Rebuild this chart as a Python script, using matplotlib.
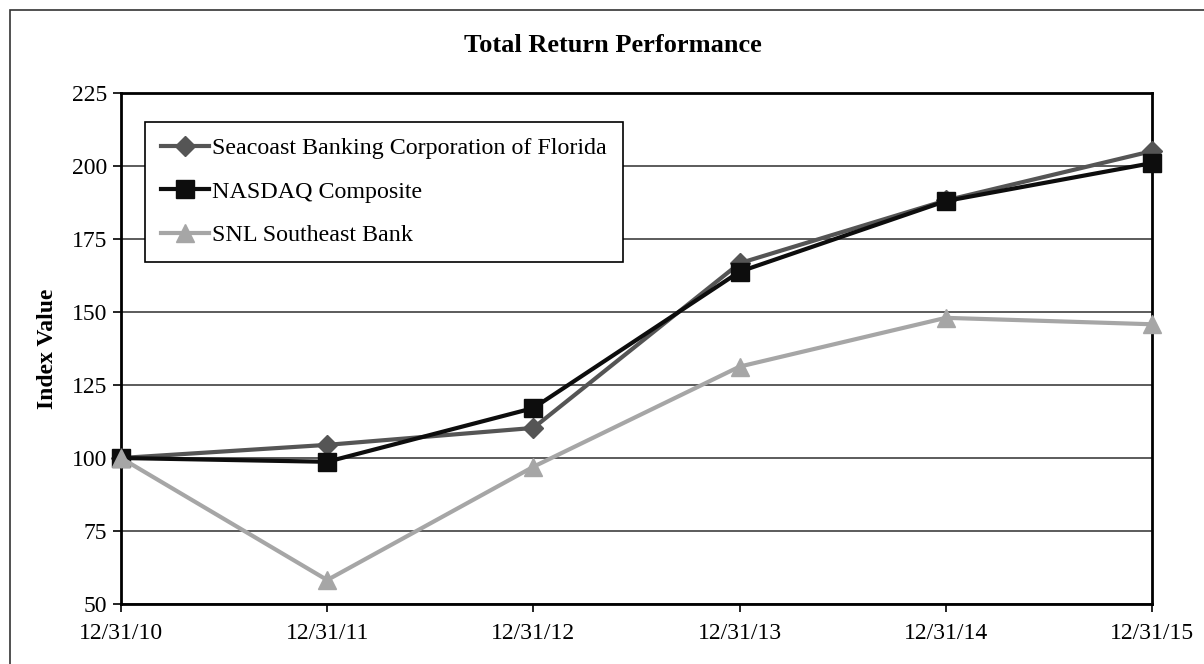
import matplotlib.pyplot as plt
from matplotlib.patches import Rectangle

dates = ['12/31/10', '12/31/11', '12/31/12', '12/31/13', '12/31/14', '12/31/15']
seacoast = [100, 104.5, 110.3, 166.7, 188.2, 205.1]
nasdaq = [100, 98.7, 117.1, 163.8, 188.0, 201.0]
snl = [100, 58.2, 97.0, 131.3, 148.0, 145.8]
yticks = [50, 75, 100, 125, 150, 175, 200, 225]

plt.rcParams['font.family'] = ['Liberation Serif', 'DejaVu Serif']

fig = plt.figure(figsize=(12.04, 6.64), dpi=100)
ax = fig.add_axes([121/1204, 1 - 604/664, 1031/1204, 511/664])

# outer frame around the whole chart
fig.patches.append(Rectangle((10/1204, -0.1), 1.2, 1.1 - 10/664,
                             transform=fig.transFigure, fill=False,
                             edgecolor='#333333', lw=1.2))

x = range(len(dates))
ax.plot(x, seacoast, color='#555555', lw=3, marker='D', ms=10.5,
        label='Seacoast Banking Corporation of Florida', clip_on=False, zorder=3)
ax.plot(x, nasdaq, color='#0d0d0d', lw=3, marker='s', ms=13,
        label='NASDAQ Composite', clip_on=False, zorder=4)
ax.plot(x, snl, color='#a6a6a6', lw=3, marker='^', ms=13,
        label='SNL Southeast Bank', clip_on=False, zorder=5)

ax.set_xlim(0, 5)
ax.set_ylim(50, 225)
ax.set_xticks(list(x))
ax.set_xticklabels(dates)
ax.set_yticks(yticks)
ax.tick_params(axis='both', labelsize=17, direction='out', width=1.2, color='black')
ax.tick_params(axis='x', length=6, pad=8)
ax.tick_params(axis='y', length=6, pad=4)

ax.grid(axis='y', color='#404040', lw=1.2)
ax.set_axisbelow(True)
for s in ax.spines.values():
    s.set_linewidth(2)
    s.set_color('black')

ax.set_ylabel('Index Value', fontsize=17, fontweight='bold', labelpad=10)
fig.text(613/1204, 1 - 45/664, 'Total Return Performance', fontsize=19,
         fontweight='bold', ha='center', va='center')

leg = ax.legend(loc='upper left', bbox_to_anchor=(24/1031, 1 - 29/511),
                borderaxespad=0, fontsize=17.3, frameon=True, fancybox=False,
                handlelength=2.0, handletextpad=0.15, labelspacing=0.9,
                borderpad=0.65)
leg.get_frame().set_edgecolor('black')
leg.get_frame().set_linewidth(1.2)
leg.get_frame().set_alpha(1)

fig.savefig('out.png', dpi=100)
